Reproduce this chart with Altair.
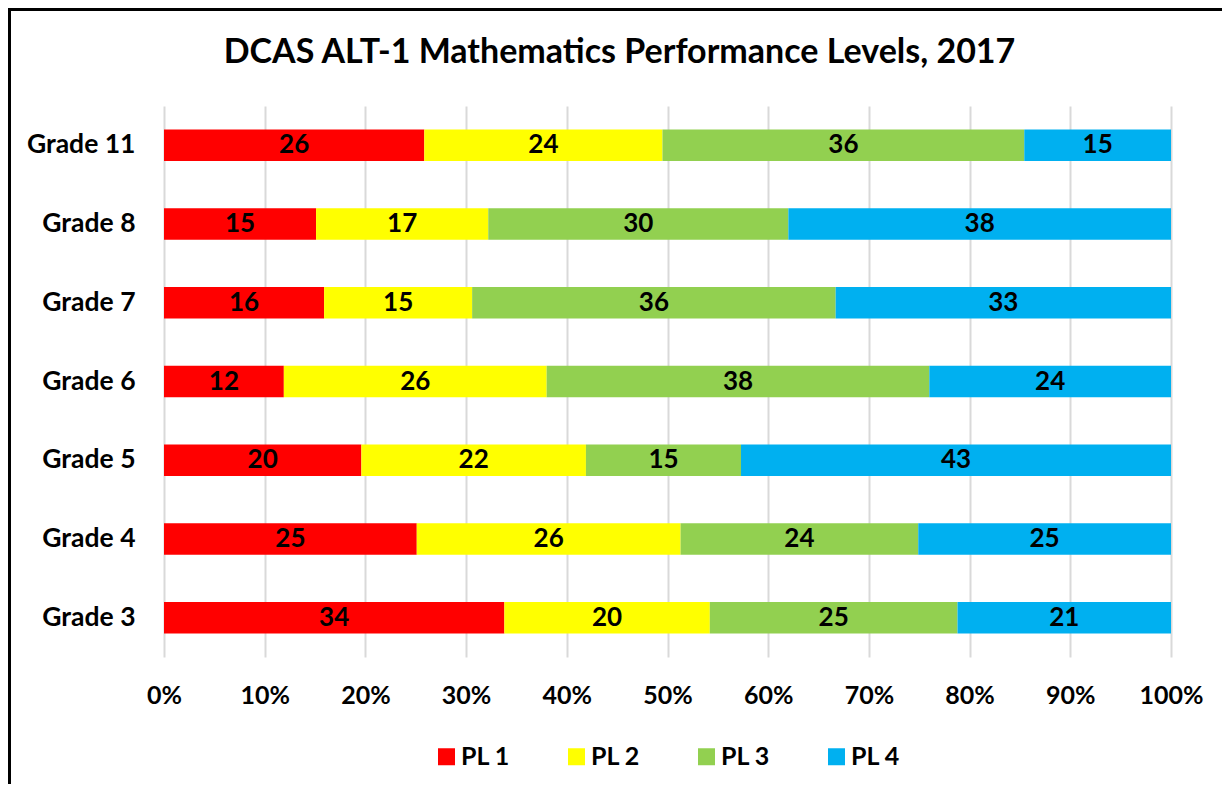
import altair as alt
import pandas as pd

grades = ["Grade 3", "Grade 4", "Grade 5", "Grade 6", "Grade 7", "Grade 8", "Grade 11"]
levels = ["PL 1", "PL 2", "PL 3", "PL 4"]
pl1 = [33.8, 25.1, 19.6, 11.9, 15.9, 15.1, 25.9]
pl2 = [20.4, 26.2, 22.3, 26.1, 14.7, 17.1, 23.7]
pl3 = [24.6, 23.6, 15.4, 38.0, 36.1, 29.8, 36.0]
pl4 = [21.2, 25.1, 42.7, 24.0, 33.3, 38.0, 14.6]
colors = ["#FF0000", "#FFFF00", "#92D050", "#00B0F0"]
x_ticks = [0, 0.1, 0.2, 0.3, 0.4, 0.5, 0.6, 0.7, 0.8, 0.9, 1.0]
title_text = "DCAS ALT-1 Mathematics Performance Levels, 2017"

rows = []
for i, g in enumerate(grades):
    for j, (lv, series) in enumerate(zip(levels, [pl1, pl2, pl3, pl4])):
        rows.append({"grade": g, "level": lv, "order": j, "value": series[i]})
df = pd.DataFrame(rows)

FONT = "Lato"
y_sort = grades[::-1]

base = alt.Chart(df).transform_stack(
    stack="value",
    groupby=["grade"],
    as_=["v0", "v1"],
    offset="normalize",
    sort=[alt.SortField("order", order="ascending")],
).transform_calculate(mid="(datum.v0 + datum.v1) / 2")

y_enc = alt.Y(
    "grade:N",
    sort=y_sort,
    scale=alt.Scale(paddingInner=0.6, paddingOuter=0.3),
    axis=alt.Axis(
        title=None,
        labelFont=FONT,
        labelFontSize=26.5,
        labelFontWeight="bold",
        labelColor="black",
        ticks=False,
        tickSize=0,
        domain=False,
        labelPadding=29,
    ),
)

bars = base.mark_bar().encode(
    x=alt.X(
        "v0:Q",
        scale=alt.Scale(domain=[0, 1], nice=False),
        axis=alt.Axis(
            title=None,
            format="%",
            values=x_ticks,
            grid=True,
            gridColor="#D9D9D9",
            gridWidth=2,
            domain=False,
            ticks=False,
            tickSize=0,
            labelPadding=26,
            labelFlush=False,
            labelFont=FONT,
            labelFontSize=25,
            labelFontWeight="bold",
            labelColor="black",
        ),
    ),
    x2="v1:Q",
    y=y_enc,
    color=alt.Color(
        "level:N",
        scale=alt.Scale(domain=levels, range=colors),
        legend=alt.Legend(
            title=None,
            orient="none",
            direction="horizontal",
            legendX=270,
            legendY=638,
            symbolType="square",
            symbolSize=289,
            symbolStrokeWidth=0,
            symbolOpacity=1,
            labelFont=FONT,
            labelFontSize=25,
            labelFontWeight="bold",
            labelColor="black",
            labelOffset=2,
            columnPadding=53,
        ),
    ),
)

texts = base.mark_text(
    font=FONT, fontSize=26, fontWeight="bold", color="black", align="center", baseline="middle"
).encode(
    x=alt.X("mid:Q"),
    y=alt.Y("grade:N", sort=y_sort),
    text=alt.Text("value:Q", format=".0f"),
)

frame = alt.Chart(pd.DataFrame({"f": [0]})).mark_rect(
    filled=False, stroke="black", strokeWidth=3
).encode(
    x=alt.value(-154.5), x2=alt.value(1200), y=alt.value(-96.5), y2=alt.value(800)
)

chart = alt.layer(frame, bars, texts).properties(
    width=1007,
    height=551,
    title=alt.TitleParams(
        title_text,
        font=FONT,
        fontSize=34,
        fontWeight="bold",
        color="black",
        anchor="middle",
        dx=-48,
        offset=-62,
    ),
    autosize=alt.AutoSizeParams(type="none"),
    padding={"left": 156, "top": 98, "right": 51, "bottom": 127},
).configure_view(stroke=None)

chart.save("out.html", embed_options={"renderer": "svg", "actions": False})
